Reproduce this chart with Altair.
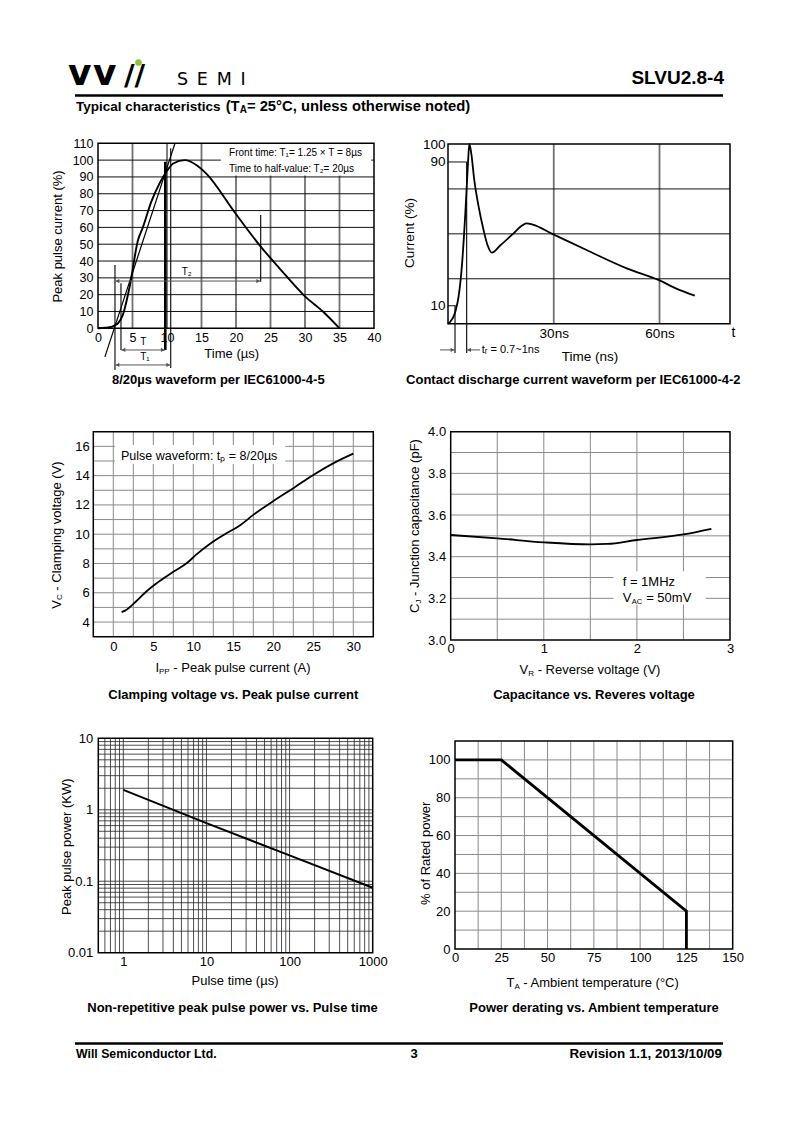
import altair as alt
import pandas as pd

M = 8
W, H = 784, 1115
FONT = "Liberation Sans, Arial, Helvetica, sans-serif"

# ---------------- data ----------------
# 8/20us surge waveform (time in us, current in %)
surge_t = [0, 1.0, 1.93, 2.4, 2.9, 3.6, 4.6, 5.8, 6.5, 7.7, 8.9, 9.9, 10.9, 12.6, 14.3, 15.7, 19.8, 23.4, 26.3, 30.0, 32.6, 35.0]
surge_i = [0, 0.3, 0.8, 1.8, 3, 8, 25, 52.5, 60, 75, 86, 93, 98, 100, 97, 92, 69, 49.5, 35.7, 19, 10, 0]
front_t = [1.0, 11.16]
front_i = [-17, 110]
# marker lines of the 8/20 construction
mark_x = [2.46, 3.33, 10.54, 23.58]
mark_lo = [-24.8, -12.9, -23.6, 27.7]
mark_hi = [37.6, 26.8, 107, 67.4]

# ESD contact discharge waveform (time in ns, current in %)
esd_t = [0, 0.66, 2.08, 3.0, 4.0, 4.9, 5.66, 6.04, 6.6, 7.45, 8.7, 10.1, 11.2, 12.45, 14.8, 18.6, 20.9, 22.2, 23.8, 29.9, 39.3, 50.7, 60.0, 64.8, 70.0]
esd_i = [0, 1.1, 6.7, 15, 33.6, 61, 89, 100, 94.8, 80, 65, 52, 43.8, 39.5, 43.5, 50.3, 54.5, 55.8, 55.3, 49.7, 41, 30.8, 24.1, 19.5, 15.6]

# clamping voltage vs peak pulse current
clamp_i = [1.04, 1.75, 2.9, 4.2, 5.4, 7.5, 9.2, 10.4, 12.1, 13.8, 15.9, 17.5, 20.05, 22.6, 25.1, 27.6, 30.0]
clamp_v = [4.68, 4.88, 5.44, 6.12, 6.64, 7.43, 8.03, 8.62, 9.35, 9.95, 10.63, 11.32, 12.28, 13.18, 14.08, 14.87, 15.5]

# capacitance vs reverse voltage
cap_v = [0, 0.5, 1.0, 1.5, 1.68, 2.0, 2.5, 2.8]
cap_c = [3.504, 3.488, 3.469, 3.459, 3.461, 3.48, 3.507, 3.534]

# peak pulse power vs pulse time
ppp_t = [1, 10, 100, 1000]
ppp_p = [1.9, 0.65, 0.23, 0.081]

# power derating
der_t = [0, 25, 125, 125]
der_p = [100, 100, 20, 0]

# tick label values
p1_xt = [0, 5, 10, 15, 20, 25, 30, 35, 40]
p1_yt = [0, 10, 20, 30, 40, 50, 60, 70, 80, 90, 100, 110]
p2_xt = [30, 60]
p2_yt = [10, 90, 100]
p3_xt = [0, 5, 10, 15, 20, 25, 30]
p3_yt = [4, 6, 8, 10, 12, 14, 16]
p4_xt = [0, 1, 2, 3]
p4_yt = [3.0, 3.2, 3.4, 3.6, 3.8, 4.0]
p5_xt = [1, 10, 100, 1000]
p5_yt = [0.01, 0.1, 1, 10]
p6_xt = [0, 25, 50, 75, 100, 125, 150]
p6_yt = [0, 20, 40, 60, 80, 100]

# panels: domains and page pixel ranges
P1 = dict(xd=[0, 40], xr=[98, 374], yd=[0, 110], yr=[328.3, 143.3])
P2 = dict(xd=[0, 80], xr=[448, 730], yd=[0, 100], yr=[323.7, 144])
P3 = dict(xd=[-2.5, 32.5], xr=[93.3, 373.3], yd=[3, 17], yr=[636.7, 431.7])
P4 = dict(xd=[0, 3], xr=[450.7, 730], yd=[3, 4], yr=[640, 431.7])
P5 = dict(xd=[0.5, 1000], xr=[98.3, 372.7], yd=[0.01, 10], yr=[952.7, 738.3], xlog=True, ylog=True)
P6 = dict(xd=[0, 150], xr=[455, 732.7], yd=[0, 110], yr=[949, 741])

# ---------------- text width helper ----------------
AR = {' ': 278, '(': 333, ')': 333, '-': 333, '.': 278, '/': 278, ':': 278, ',': 278, '=': 584, '%': 889,
      '°': 400, 'µ': 577, '~': 584, '×': 584,
      'A': 667, 'B': 667, 'C': 722, 'D': 722, 'E': 667, 'F': 611, 'G': 778, 'H': 722, 'I': 278, 'J': 500,
      'K': 667, 'L': 556, 'M': 833, 'N': 722, 'O': 778, 'P': 667, 'R': 722, 'S': 667, 'T': 611, 'U': 722,
      'V': 667, 'W': 944,
      'a': 556, 'b': 556, 'c': 500, 'd': 556, 'e': 556, 'f': 278, 'g': 556, 'h': 556, 'i': 222, 'j': 222,
      'k': 500, 'l': 222, 'm': 833, 'n': 556, 'o': 556, 'p': 556, 'r': 333, 's': 500, 't': 278, 'u': 556,
      'v': 500, 'w': 722, 'x': 500, 'y': 500, 'z': 500}
ARB = dict(AR)
ARB.update({':': 333, 'A': 722, 'L': 611, 'b': 611, 'c': 556, 'd': 611, 'f': 333, 'g': 611, 'h': 611,
            'i': 278, 'k': 556, 'l': 278, 'm': 889, 'n': 611, 'o': 611, 'p': 611, 'r': 389, 's': 556,
            't': 333, 'u': 611, 'v': 556, 'w': 778, 'y': 556})


def tw(s, size, bold=False):
    tbl = ARB if bold else AR
    return sum(tbl.get(ch, 556) for ch in s) / 1000.0 * size


# ---------------- layer helpers ----------------
def sc(dom, rng, log=False):
    r = [v - M for v in rng]
    if log:
        return alt.Scale(type='log', domain=dom, range=r, nice=False)
    return alt.Scale(domain=dom, range=r, nice=False, zero=False)


def X(p, f='x', axis=None):
    return alt.X(f + ':Q', scale=sc(p['xd'], p['xr'], p.get('xlog', False)), axis=axis)


def Y(p, f='y', axis=None):
    return alt.Y(f + ':Q', scale=sc(p['yd'], p['yr'], p.get('ylog', False)), axis=axis)


def vrules(p, xs, lo, hi, color, width):
    n = len(xs)
    lo = lo if isinstance(lo, list) else [lo] * n
    hi = hi if isinstance(hi, list) else [hi] * n
    df = pd.DataFrame({'x': xs, 'y': lo, 'y2': hi})
    return alt.Chart(df).mark_rule(color=color, strokeWidth=width).encode(x=X(p), y=Y(p), y2=alt.Y2('y2'))


def hrules(p, ys, lo, hi, color, width):
    n = len(ys)
    lo = lo if isinstance(lo, list) else [lo] * n
    hi = hi if isinstance(hi, list) else [hi] * n
    df = pd.DataFrame({'y': ys, 'x': lo, 'x2': hi})
    return alt.Chart(df).mark_rule(color=color, strokeWidth=width).encode(y=Y(p), x=X(p), x2=alt.X2('x2'))


def box(p, x0, x1, y0, y1):
    df = pd.DataFrame({'x': [x0], 'x2': [x1], 'y': [y0], 'y2': [y1]})
    return alt.Chart(df).mark_rect(color='white', opacity=1).encode(
        x=X(p), x2=alt.X2('x2'), y=Y(p), y2=alt.Y2('y2'))


def curve(p, xs, ys, width=1.8, interp='linear', color='black'):
    df = pd.DataFrame({'x': xs, 'y': ys, 'o': list(range(len(xs)))})
    return alt.Chart(df).mark_line(color=color, strokeWidth=width, interpolate=interp).encode(
        x=X(p), y=Y(p), order=alt.Order('o:Q'))


def head(p, x, y, shape, off, color='#555'):
    df = pd.DataFrame({'x': [x], 'y': [y]})
    return alt.Chart(df).mark_point(shape=shape, filled=True, size=18, color=color, opacity=1,
                                    xOffset=off).encode(x=X(p), y=Y(p))


def harrow(p, y, x0, x1, left=True, right=True, color='#555'):
    out = [hrules(p, [y], x0, x1, color, 1)]
    if right:
        out.append(head(p, x1, y, 'triangle-right', -2.5, color))
    if left:
        out.append(head(p, x0, y, 'triangle-left', 2.5, color))
    return out


def dtext(p, x, y, text, size=10, align='left', dx=0, dy=0, weight='normal'):
    df = pd.DataFrame({'x': [x], 'y': [y], 't': [text]})
    return alt.Chart(df).mark_text(align=align, baseline='middle', fontSize=size, font=FONT,
                                   color='black', fontWeight=weight, dx=dx, dy=dy).encode(
        x=X(p), y=Y(p), text='t:N')


def frame(p, xvals, yvals, xpad, ypad, size=13, xfmt=None, yfmt=None, xexpr=None, sw=1.5):
    df = pd.DataFrame({'x': [p['xd'][0]], 'x2': [p['xd'][1]], 'y': [p['yd'][0]], 'y2': [p['yd'][1]]})
    common = dict(grid=False, ticks=False, tickSize=0, domain=False, labelFont=FONT, labelFontSize=size,
                  labelColor='black', title=None, labelOverlap=False, labelFlush=False)
    xa = dict(common, values=xvals, orient='bottom', offset=round(p['yr'][0] - M - H, 2), labelPadding=xpad)
    if xfmt:
        xa['format'] = xfmt
    if xexpr:
        xa['labelExpr'] = xexpr
    ya = dict(common, values=yvals, orient='left', offset=round(-(p['xr'][0] - M), 2), labelPadding=ypad)
    if yfmt:
        ya['format'] = yfmt
    return alt.Chart(df).mark_rect(fillOpacity=0, stroke='black', strokeWidth=sw).encode(
        x=X(p, axis=alt.Axis(**xa)), x2=alt.X2('x2'), y=Y(p, axis=alt.Axis(**ya)), y2=alt.Y2('y2'))


def ptext(x, y, text, size=13, align='left', weight='normal', font=FONT, angle=0, color='black',
          baseline='middle'):
    df = pd.DataFrame({'t': [text]})
    kw = dict(align=align, baseline=baseline, fontSize=size, font=font, fontWeight=weight, color=color)
    if angle:
        kw['angle'] = angle
    return alt.Chart(df).mark_text(**kw).encode(x=alt.value(x - M), y=alt.value(y - M), text='t:N')


def rich(cx, cy, pieces, angle=0, anchor='center'):
    widths = [tw(t, s, b) for (t, s, sh, b) in pieces]
    total = sum(widths)
    start = {'center': total / 2.0, 'left': 0.0, 'right': total}[anchor]
    out = []
    cum = 0.0
    for (t, s, sh, b), w in zip(pieces, widths):
        shown = t.lstrip()
        lead = tw(t[:len(t) - len(shown)], s, b)
        off = cum + lead - start
        wt = 'bold' if b else 'normal'
        if angle == 0:
            out.append(ptext(cx + off, cy + sh, shown, s, 'left', weight=wt))
        else:
            out.append(ptext(cx + sh, cy - off, shown, s, 'left', weight=wt, angle=270))
        cum += w
    return out


def prule(x0, x1, y, width, color='black'):
    df = pd.DataFrame({'a': [0]})
    return alt.Chart(df).mark_rule(color=color, strokeWidth=width).encode(
        x=alt.value(x0 - M), x2=alt.value(x1 - M), y=alt.value(y - M))


layers = []

# ---------------- header ----------------
layers.append(ptext(68, 85, 'v', 36, weight='bold', font='DejaVu Sans', baseline='alphabetic'))
layers.append(ptext(93, 85, 'v', 36, weight='bold', font='DejaVu Sans', baseline='alphabetic'))
layers.append(ptext(124, 85, '//', 29, weight='bold', font='DejaVu Sans', baseline='alphabetic'))
layers.append(alt.Chart(pd.DataFrame({'a': [0]})).mark_point(filled=True, size=45, color='#8cc63f', opacity=1)
              .encode(x=alt.value(138.5 - M), y=alt.value(62.5 - M)))
layers.append(ptext(177, 79.5, 'S\u2002E\u2002M\u2002I', 17.5, font='DejaVu Sans'))
layers.append(ptext(724, 78, 'SLVU2.8-4', 19, align='right', weight='bold'))
layers.append(prule(75, 723, 95.5, 2.5))
layers += rich(76, 107, [('Typical characteristics', 13.5, 0, True),
                         (' (T', 14.8, 0, True),
                         ('A', 10, 3, True),
                         ('= 25°C, unless otherwise noted)', 14.8, 0, True)], anchor='left')

# ---------------- chart 1: 8/20us waveform ----------------
layers.append(vrules(P1, [5, 10, 15, 20, 25, 30, 35], 0, 110, '#707070', 1.8))
layers.append(hrules(P1, [10, 20, 30, 40, 50, 60, 70, 80, 90, 100], 0, 40, '#111111', 1))
layers.append(box(P1, 17.8, 39.6, 90.8, 110))
layers.append(frame(P1, p1_xt, p1_yt, 3, 5, size=12.5))
layers.append(curve(P1, surge_t, surge_i, 1.9, 'monotone'))
layers.append(curve(P1, front_t, front_i, 1.2))
layers.append(vrules(P1, mark_x, mark_lo, mark_hi, 'black', 1.1))
layers.append(vrules(P1, [9.75], [-12.9], [99], 'black', 2.6))
layers += harrow(P1, 28.1, 2.46, 23.58)
layers += harrow(P1, -12.9, 3.33, 9.75)
layers += harrow(P1, -21.8, 2.46, 10.54)
layers.append(dtext(P1, 6.57, -8.0, 'T', 10, 'center'))
layers.append(dtext(P1, 6.8, -16.9, 'T₁', 10, 'center'))
layers.append(dtext(P1, 12.86, 33.6, 'T₂', 10, 'center'))
layers.append(dtext(P1, 19.0, 104.2, 'Front time: T₁= 1.25 × T = 8µs', 10))
layers.append(dtext(P1, 19.0, 94.8, 'Time to half-value: T₂= 20µs', 10))
layers.append(ptext(58.3, 236.5, 'Peak pulse current (%)', 13, 'center', angle=270))
layers.append(ptext(231.7, 354, 'Time (µs)', 13, 'center'))
layers.append(ptext(218.3, 380, '8/20µs waveform per IEC61000-4-5', 13, 'center', weight='bold'))

# ---------------- chart 2: ESD waveform ----------------
layers.append(vrules(P2, [30, 60], 0, 100, '#707070', 1.8))
layers.append(hrules(P2, [25, 50, 75], 0, 80, '#111111', 1))
layers.append(hrules(P2, [90, 10], 0, [5.3, 2.2], '#111111', 1))
layers.append(frame(P2, p2_xt, p2_yt, 3, 3, size=13.5, xexpr="datum.value + 'ns'"))
layers.append(curve(P2, esd_t, esd_i, 1.8, 'monotone'))
layers.append(vrules(P2, [1.99, 5.3], [-16.3, -16.3], [10, 90], 'black', 1.1))
layers += harrow(P2, -14.6, -2.27, 1.99, left=False)
layers += harrow(P2, -14.6, 5.3, 9.08, right=False)
layers.append(dtext(P2, 9.56, -14.6, 'tᵣ = 0.7~1ns', 11))
layers.append(dtext(P2, 81.0, -5.0, 't', 14, 'center'))
layers.append(ptext(410, 233, 'Current (%)', 13.5, 'center', angle=270))
layers.append(ptext(590, 357, 'Time (ns)', 13.5, 'center'))
layers.append(ptext(573.3, 380, 'Contact discharge current waveform per IEC61000-4-2', 13, 'center', weight='bold'))

# ---------------- chart 3: clamping voltage ----------------
layers.append(vrules(P3, [v * 2.5 for v in range(0, 13)], 3, 17, '#8a8a8a', 1))
layers.append(hrules(P3, list(range(4, 17)), -2.5, 32.5, '#8a8a8a', 1))
layers.append(box(P3, 0.2, 21.5, 14.8, 16.1))
layers.append(frame(P3, p3_xt, p3_yt, 4, 4, size=13))
layers.append(curve(P3, clamp_i, clamp_v, 1.8, 'monotone'))
layers.append(dtext(P3, 0.96, 15.37, 'Pulse waveform: tₚ = 8/20µs', 12.5))
layers += rich(56.7, 535, [('V', 13, 0, False), ('C', 8, 3.5, False),
                           (' - Clamping voltage (V)', 13, 0, False)], angle=270)
layers += rich(233, 668, [('I', 13, 0, False), ('PP', 8, 3.5, False),
                          (' - Peak pulse current (A)', 13, 0, False)])
layers.append(ptext(233.3, 695, 'Clamping voltage vs. Peak pulse current', 13, 'center', weight='bold'))

# ---------------- chart 4: capacitance ----------------
layers.append(vrules(P4, [0.5, 1.0, 1.5, 2.0, 2.5], 3, 4, '#8a8a8a', 1))
layers.append(hrules(P4, [3.1, 3.2, 3.3, 3.4, 3.5, 3.6, 3.7, 3.8, 3.9], 0, 3, '#8a8a8a', 1))
layers.append(box(P4, 1.75, 2.74, 3.17, 3.33))
layers.append(frame(P4, p4_xt, p4_yt, 2.5, 5, size=13, yfmt='.1f'))
layers.append(curve(P4, cap_v, cap_c, 1.8, 'monotone'))
layers.append(dtext(P4, 1.847, 3.278, 'f = 1MHz', 13))
layers.append(dtext(P4, 1.847, 3.203, 'V', 13))
layers.append(dtext(P4, 1.847, 3.203, 'AC', 7.5, dx=9.2, dy=4))
layers.append(dtext(P4, 1.847, 3.203, '= 50mV', 13, dx=23.5))
layers += rich(415, 526, [('C', 13, 0, False), ('J', 8, 3.5, False),
                          (' - Junction capacitance (pF)', 13, 0, False)], angle=270)
layers += rich(590, 670, [('V', 13, 0, False), ('R', 8, 3.5, False),
                          (' - Reverse voltage (V)', 13, 0, False)])
layers.append(ptext(594, 695, 'Capacitance vs. Reveres voltage', 13, 'center', weight='bold'))

# ---------------- chart 5: peak pulse power ----------------
p5_xgrid = [m * 10 ** e for e in range(-1, 3) for m in range(1, 10) if 0.55 < m * 10 ** e < 999]
p5_ygrid = [m * 10 ** e for e in range(-2, 1) for m in range(1, 10) if 0.011 < m * 10 ** e < 9.9]
layers.append(vrules(P5, p5_xgrid, 0.01, 10, '#222222', 0.8))
layers.append(hrules(P5, p5_ygrid, 0.5, 1000, '#222222', 0.8))
layers.append(frame(P5, p5_xt, p5_yt, 3, 5.5, size=13, xfmt='~g', yfmt='~g'))
layers.append(curve(P5, ppp_t, ppp_p, 2.0))
layers.append(ptext(66.7, 846.7, 'Peak pulse power (KW)', 13, 'center', angle=270))
layers.append(ptext(235, 981, 'Pulse time (µs)', 13, 'center'))
layers.append(ptext(232.5, 1008.3, 'Non-repetitive peak pulse power vs. Pulse time', 13, 'center', weight='bold'))

# ---------------- chart 6: derating ----------------
layers.append(vrules(P6, [v * 12.5 for v in range(1, 12)], 0, 110, '#8a8a8a', 1))
layers.append(hrules(P6, [10, 20, 30, 40, 50, 60, 70, 80, 90, 100], 0, 150, '#8a8a8a', 1))
layers.append(frame(P6, p6_xt, p6_yt, 2.5, 5, size=13))
layers.append(curve(P6, der_t, der_p, 2.8))
layers.append(ptext(426, 853.3, '% of Rated power', 13, 'center', angle=270))
layers += rich(593, 983, [('T', 13, 0, False), ('A', 8, 3.5, False),
                          (' - Ambient temperature (°C)', 13, 0, False)])
layers.append(ptext(594, 1008.3, 'Power derating vs. Ambient temperature', 13, 'center', weight='bold'))

# ---------------- footer ----------------
layers.append(prule(75, 723, 1043.5, 2.5))
layers.append(ptext(76, 1054, 'Will Semiconductor Ltd.', 12.3, weight='bold'))
layers.append(ptext(414, 1054, '3', 13, 'center', weight='bold'))
layers.append(ptext(722, 1054, 'Revision 1.1, 2013/10/09', 13.4, 'right', weight='bold'))

chart = (alt.layer(*layers)
         .properties(width=W, height=H, autosize=alt.AutoSizeParams(type='none'), padding=0,
                     background='white')
         .resolve_scale(x='independent', y='independent')
         .resolve_axis(x='independent', y='independent')
         .configure_view(strokeWidth=0))

chart.save("out.html", embed_options={"renderer": "svg", "actions": False})
